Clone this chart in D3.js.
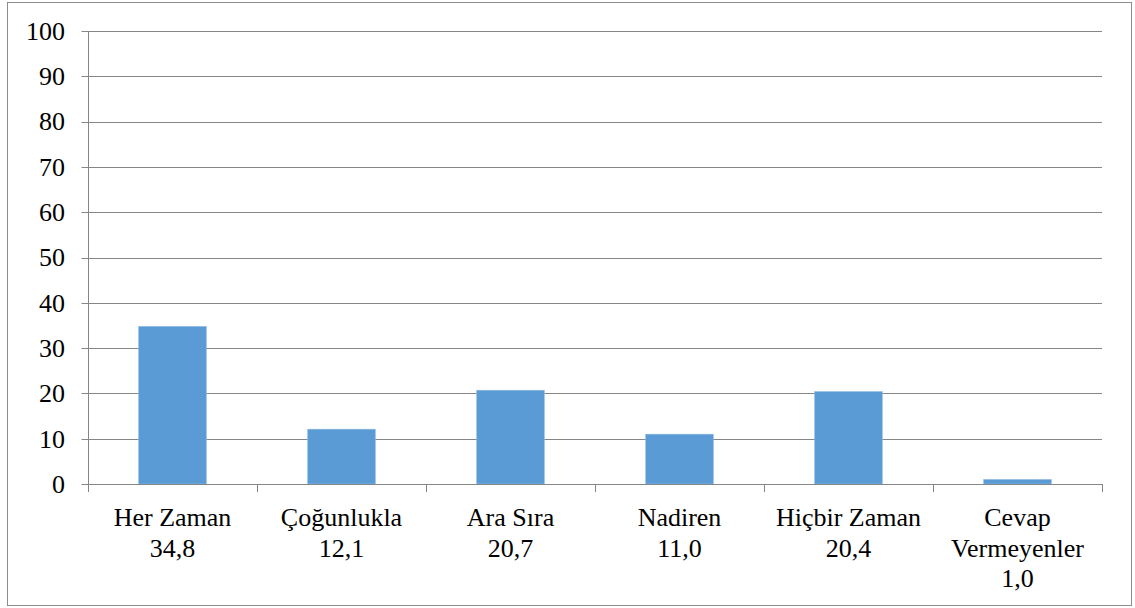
<html><head><meta charset="utf-8"><script src="https://cdn.jsdelivr.net/npm/d3@7"></script></head>
<body style="margin:0;padding:0;background:#fff">
<svg id="chart" width="1135" height="608" style="display:block"></svg>
<script>
const categories = [["Her Zaman"], ["Çoğunlukla"], ["Ara Sıra"], ["Nadiren"], ["Hiçbir Zaman"], ["Cevap", "Vermeyenler"]];
const values = [34.8, 12.1, 20.7, 11.0, 20.4, 1.0];
const yTicks = [0, 10, 20, 30, 40, 50, 60, 70, 80, 90, 100];

const svg = d3.select("#chart");
const m = { left: 88, right: 1102, top: 31, bottom: 484 };
const fontSize = "26px";
const fontFam = '"Liberation Serif"';
const gridColor = "#868686";

// outer frame
svg.append("rect")
  .attr("x", 7.5).attr("y", 2.5)
  .attr("width", 1124).attr("height", 603)
  .attr("fill", "#fff").attr("stroke", "#8c8c8c").attr("stroke-width", 1);

const x = d3.scaleBand()
  .domain(d3.range(categories.length))
  .range([m.left, m.right])
  .padding(0);

const y = d3.scaleLinear().domain([0, 100]).range([m.bottom, m.top]);

// gridlines
svg.append("g").selectAll("line").data(yTicks.filter(d => d > 0)).join("line")
  .attr("x1", m.left).attr("x2", m.right)
  .attr("y1", d => Math.round(y(d)) + 0.5).attr("y2", d => Math.round(y(d)) + 0.5)
  .attr("stroke", gridColor).attr("stroke-width", 1);

// y axis (line and ticks via d3 axis, labels drawn separately)
const yAxis = d3.axisLeft(y).tickValues(yTicks).tickSize(7).tickFormat("");
const gy = svg.append("g").attr("transform", `translate(${m.left + 0.5},0)`).call(yAxis);
gy.select(".domain").attr("stroke", gridColor).attr("d", `M0,${m.top}V${m.bottom}`);
gy.selectAll(".tick").attr("transform", d => `translate(0,${Math.round(y(d)) + 0.5})`);
gy.selectAll(".tick line").attr("stroke", gridColor);
gy.selectAll(".tick text").remove();

svg.selectAll("text.ylab").data(yTicks).join("text")
  .attr("class", "ylab")
  .attr("x", 65)
  .attr("y", d => y(d))
  .attr("dy", "0.34em")
  .attr("text-anchor", "end")
  .style("font-family", fontFam)
  .style("font-size", fontSize)
  .text(d => d);

// bars
const barW = x.bandwidth() * 0.4;
svg.append("g").selectAll("rect").data(values).join("rect")
  .attr("x", (d, i) => x(i) + (x.bandwidth() - barW) / 2)
  .attr("y", d => y(d))
  .attr("width", barW)
  .attr("height", d => y(0) - y(d))
  .attr("fill", "#5B9BD5")
  .attr("stroke", "#8fbbe3").attr("stroke-width", 0.6);

// x axis line
svg.append("line")
  .attr("x1", m.left).attr("x2", m.right)
  .attr("y1", m.bottom + 0.5).attr("y2", m.bottom + 0.5)
  .attr("stroke", gridColor);

// x ticks at category boundaries
const boundaries = d3.range(categories.length + 1).map(i => i < categories.length ? x(i) : m.right);
svg.append("g").selectAll("line").data(boundaries).join("line")
  .attr("x1", d => Math.round(d) + 0.5).attr("x2", d => Math.round(d) + 0.5)
  .attr("y1", m.bottom).attr("y2", m.bottom + 8)
  .attr("stroke", gridColor);

// category labels (one text per line)
const fmt = v => d3.format(".1f")(v).replace(".", ",");
const lineData = [];
categories.forEach((c, i) => {
  c.concat([fmt(values[i])]).forEach((ln, k) => lineData.push({ i, k, ln }));
});
svg.selectAll("text.xlab").data(lineData).join("text")
  .attr("class", "xlab")
  .attr("text-anchor", "middle")
  .attr("x", d => x(d.i) + x.bandwidth() / 2)
  .attr("y", d => 526 + d.k * 30.5)
  .style("font-family", fontFam)
  .style("font-size", fontSize)
  .text(d => d.ln);
</script>
</body>
</html>
